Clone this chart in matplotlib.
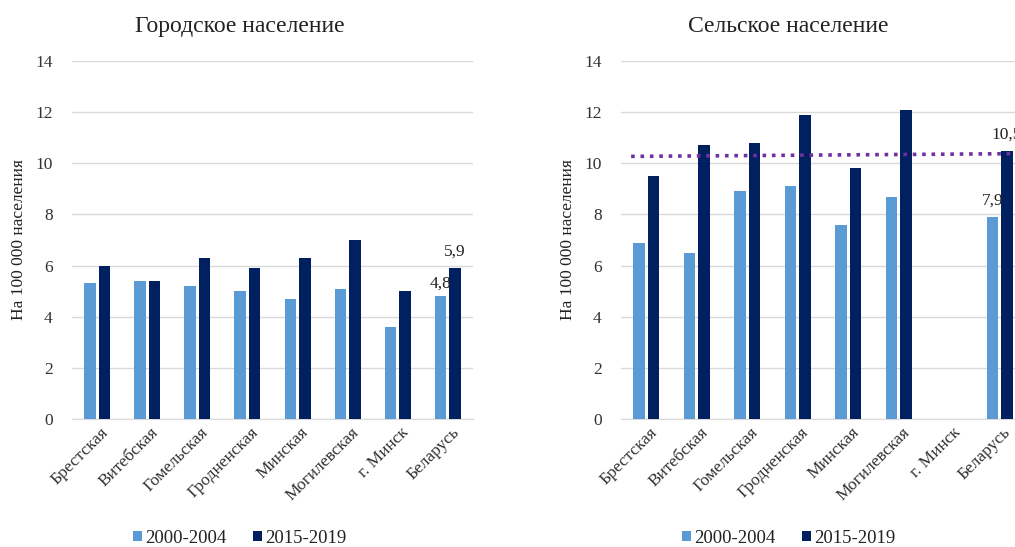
import numpy as np
import matplotlib.pyplot as plt
from matplotlib.transforms import ScaledTranslation

plt.rcParams['font.family'] = ['Liberation Serif', 'DejaVu Serif']

regions = ['Брестская', 'Витебская', 'Гомельская', 'Гродненская',
           'Минская', 'Могилевская', 'г. Минск', 'Беларусь']
periods = ['2000-2004', '2015-2019']

urban_2000 = [5.3, 5.4, 5.2, 5.0, 4.7, 5.1, 3.6, 4.8]
urban_2015 = [6.0, 5.4, 6.3, 5.9, 6.3, 7.0, 5.0, 5.9]

rural_2000 = [6.9, 6.5, 8.9, 9.1, 7.6, 8.7, np.nan, 7.9]
rural_2015 = [9.5, 10.7, 10.8, 11.9, 9.8, 12.1, np.nan, 10.5]

# линия тренда на правом графике (концы, как на рисунке)
trend_x = [-0.3, 7.6]
trend_y = [10.27, 10.38]

light = '#5B9BD5'
dark = '#002060'
grid_c = '#D9D9D9'
text_c = '#333333'

fig = plt.figure(figsize=(10.15, 5.47), dpi=100)
ax1 = fig.add_axes([72 / 1015, 128 / 547, 401 / 1015, 358 / 547])
ax2 = fig.add_axes([621 / 1015, 128 / 547, 404 / 1015, 358 / 547])

x = np.arange(len(regions))
w = 0.23
off = 0.145


def draw(ax, a, b, title, title_x):
    ax.bar(x - off, a, w, color=light, label=periods[0], zorder=3)
    ax.bar(x + off, b, w, color=dark, label=periods[1], zorder=3)
    ax.set_xlim(-0.5, len(regions) - 0.5)
    ax.set_ylim(0, 14)
    ax.set_yticks(range(0, 15, 2))
    ax.grid(axis='y', color=grid_c, linewidth=1, zorder=0)
    for s in ['top', 'right', 'left']:
        ax.spines[s].set_visible(False)
    ax.spines['bottom'].set_color(grid_c)
    ax.tick_params(length=0, labelsize=12.5, colors=text_c)
    ax.tick_params(axis='y', pad=14)
    ax.tick_params(axis='x', pad=4)
    ax.set_xticks(x)
    ax.set_xticklabels(regions, rotation=45, ha='right', rotation_mode='anchor')
    shift = ScaledTranslation(3 / 100, 0, fig.dpi_scale_trans)
    for lab in ax.get_xticklabels():
        lab.set_transform(lab.get_transform() + shift)
    ax.set_ylabel('На 100 000 населения', fontsize=12.5, color='#222222', labelpad=6)
    fig.text(title_x, 0.952, title, ha='center', va='center', fontsize=17, color='#222222')
    fig.legend(handles=ax.containers, labels=periods, loc='center',
               bbox_to_anchor=(title_x, 0.016), ncol=2, frameon=False,
               fontsize=13.5, handlelength=0.5, handleheight=0.5,
               handletextpad=0.15, columnspacing=1.4, labelcolor='#222222')


draw(ax1, urban_2000, urban_2015, 'Городское население', 0.236)
draw(ax2, rural_2000, rural_2015, 'Сельское население', 0.777)

ax2.plot(trend_x, trend_y, color='#7030A0', linestyle=(0, (1, 1.6)),
         linewidth=2.6, zorder=4)

# подписи значений для Беларуси
last = len(regions) - 1
lab_kw = dict(textcoords='offset points', ha='center', va='bottom',
              fontsize=12.5, color='#222222')
ax1.annotate('4,8', (last - off, urban_2000[last]), xytext=(0, 3), **lab_kw)
ax1.annotate('5,9', (last + off, urban_2015[last]), xytext=(0, 6), **lab_kw)
ax2.annotate('7,9', (last - off, rural_2000[last]), xytext=(0, 6), **lab_kw)
ax2.annotate('10,5', (last + off, rural_2015[last]), xytext=(0, 6), **lab_kw)

fig.savefig('out.png', dpi=100)
